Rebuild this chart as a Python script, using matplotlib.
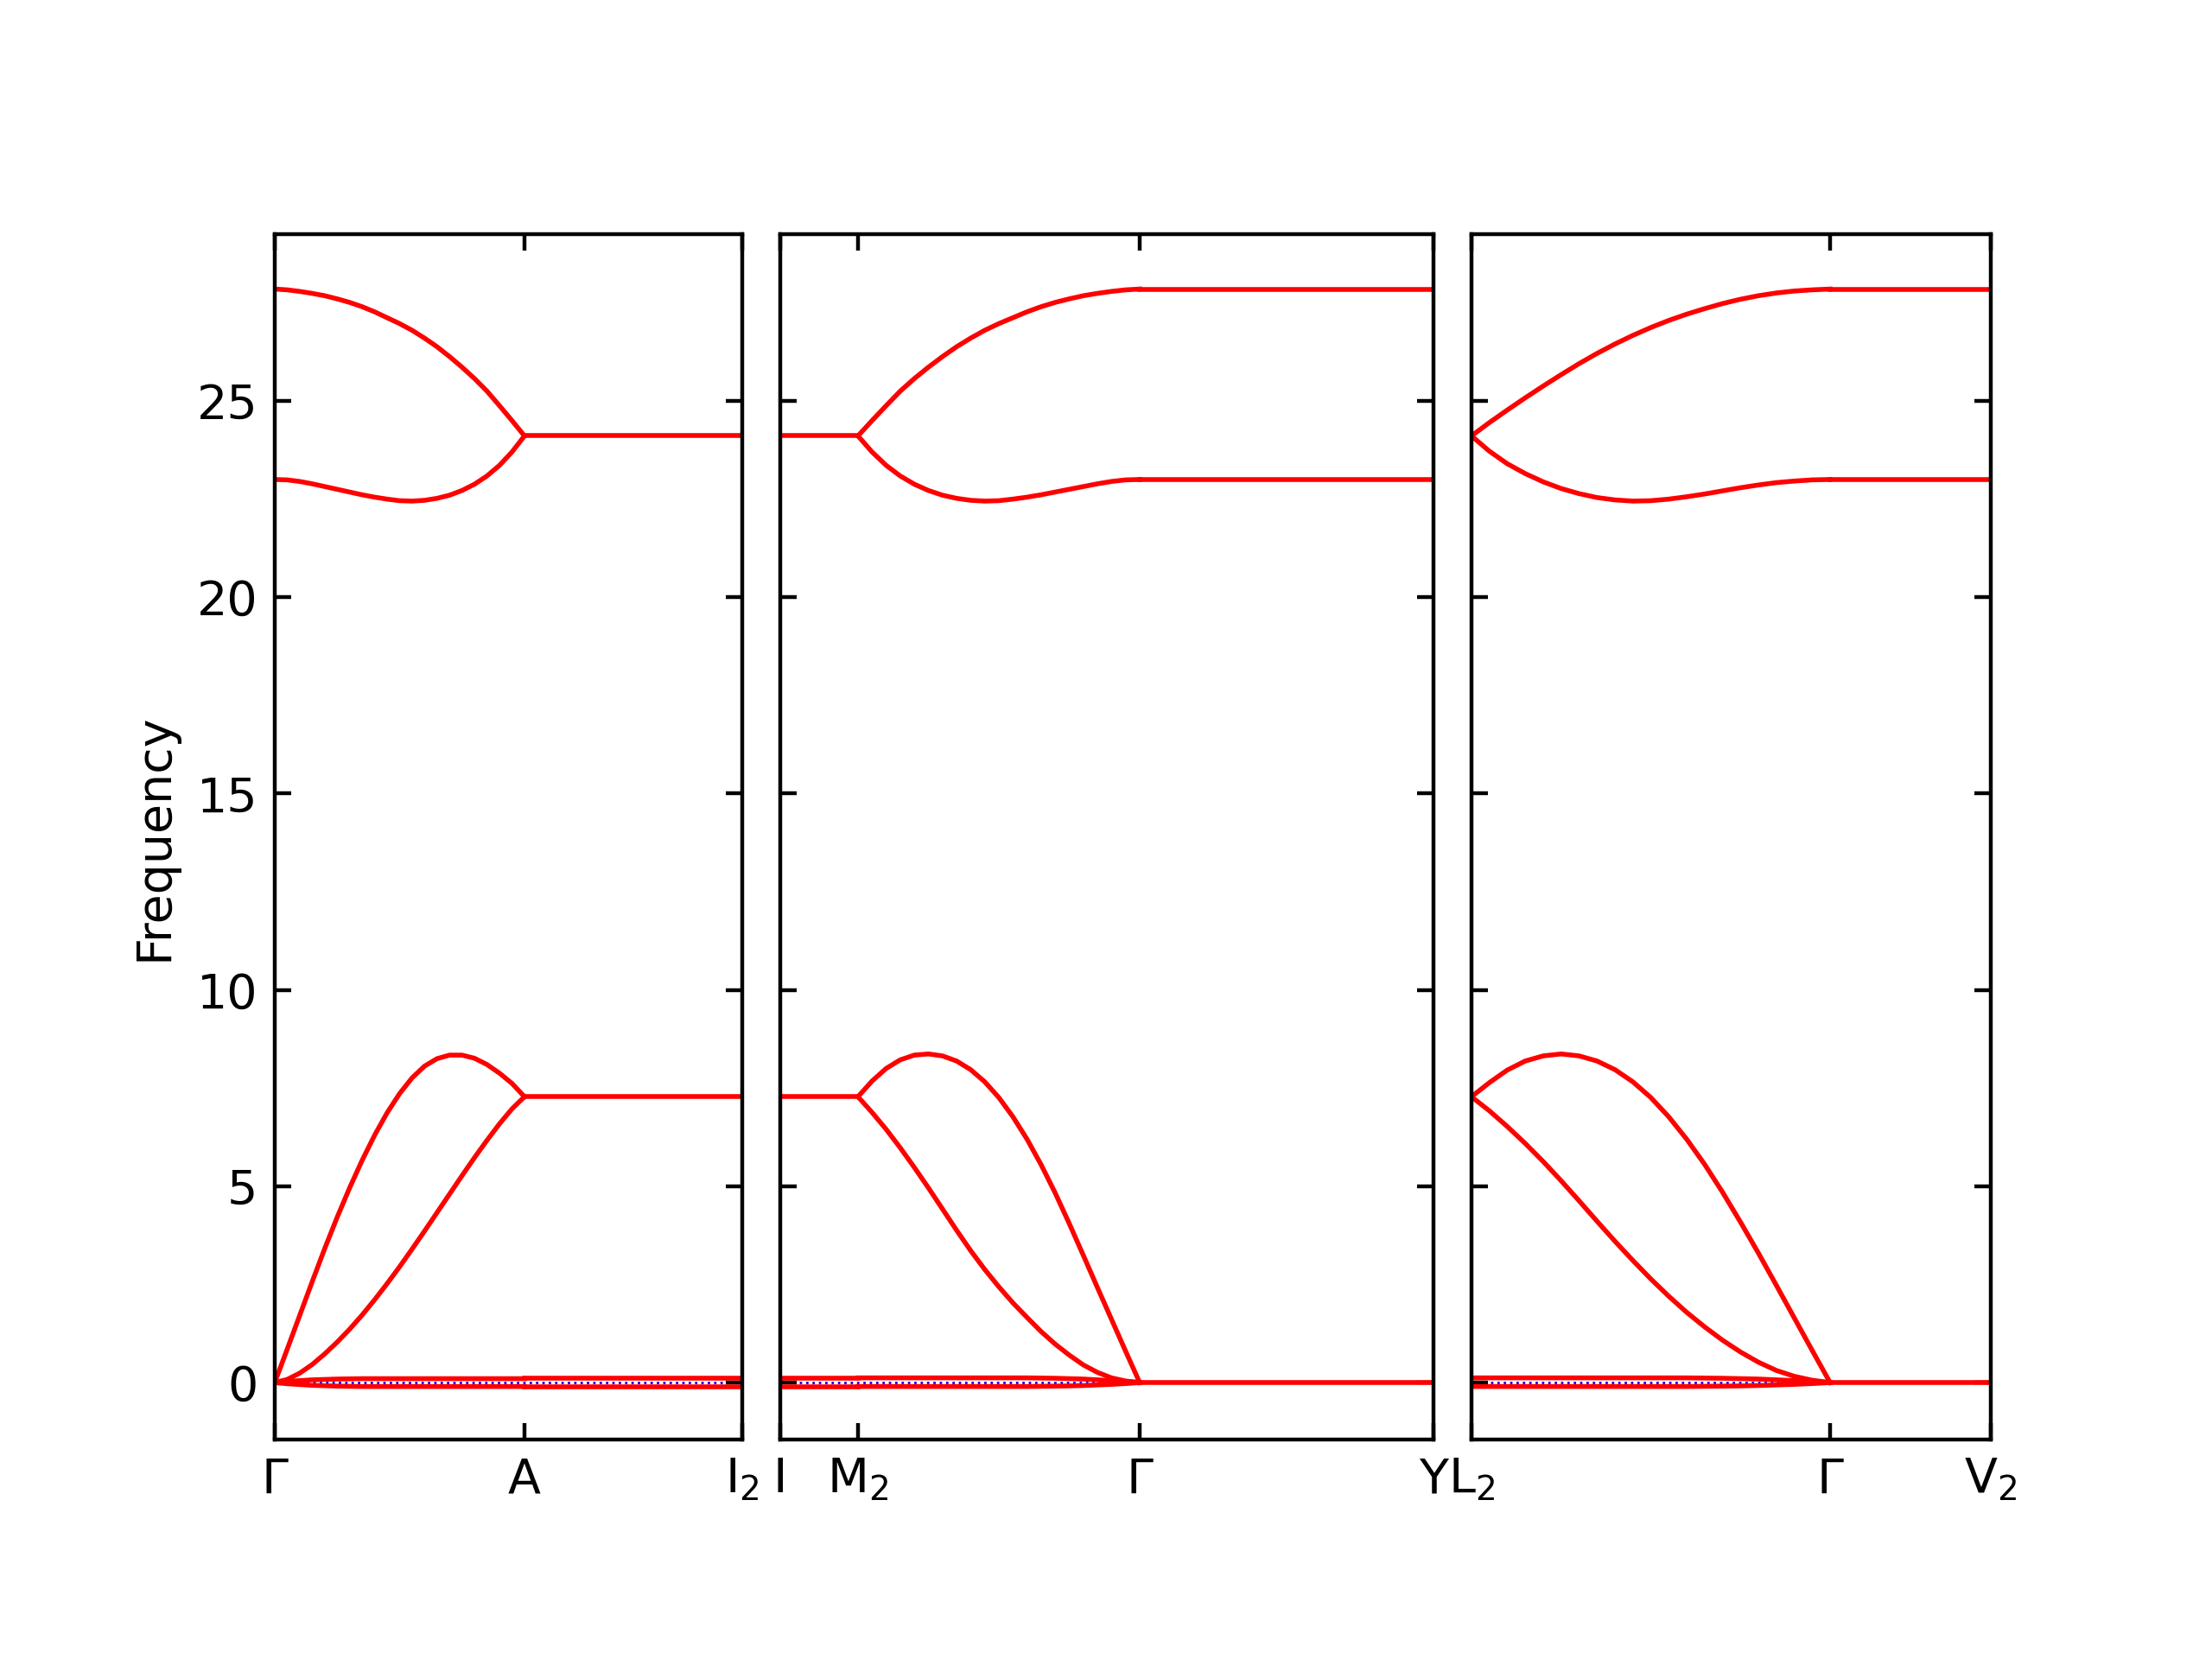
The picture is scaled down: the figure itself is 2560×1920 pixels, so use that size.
import numpy as np
import matplotlib.pyplot as plt

# ---------------------------------------------------------
# path: special points (distance along path) and labels
# ---------------------------------------------------------
pts1 = [0.0, 0.289, 0.541]
labels1 = ['Γ', 'A', 'I$_2$']
pts2 = [0.0, 0.090, 0.416, 0.756]
labels2 = ['I', 'M$_2$', 'Γ', 'Y']
pts3 = [0.0, 0.415, 0.601]
labels3 = ['L$_2$', 'Γ', 'V$_2$']

# fraction along a segment where bands were read (step 0.05)
t = np.linspace(0, 1, 21)
t_flat = [0.0, 1.0]

# ---------------------------------------------------------
# Gamma -> A
# ---------------------------------------------------------
ga_opt_hi = [27.85, 27.83, 27.79, 27.74, 27.68, 27.60, 27.51, 27.40, 27.27, 27.12, 26.97,
             26.80, 26.60, 26.38, 26.13, 25.86, 25.57, 25.25, 24.88, 24.50, 24.11]
ga_opt_lo = [23.00, 22.99, 22.95, 22.89, 22.82, 22.75, 22.68, 22.61, 22.55, 22.50, 22.46,
             22.45, 22.47, 22.52, 22.60, 22.72, 22.88, 23.09, 23.36, 23.70, 24.11]
ga_ac_hi = [0.00, 0.85, 1.71, 2.57, 3.41, 4.21, 4.96, 5.66, 6.30, 6.87, 7.36,
            7.76, 8.06, 8.25, 8.34, 8.34, 8.26, 8.10, 7.88, 7.62, 7.28]
ga_ac_lo = [0.00, 0.08, 0.24, 0.46, 0.73, 1.03, 1.36, 1.72, 2.11, 2.52, 2.95,
            3.40, 3.86, 4.33, 4.80, 5.27, 5.73, 6.17, 6.59, 6.97, 7.28]
ga_zero_up = [0.00, 0.03, 0.05, 0.07, 0.08, 0.09, 0.095, 0.10, 0.10, 0.10, 0.10,
              0.10, 0.10, 0.10, 0.10, 0.10, 0.10, 0.10, 0.10, 0.10, 0.10]
ga_zero_dn = [0.00, -0.03, -0.05, -0.07, -0.08, -0.09, -0.095, -0.10, -0.10, -0.10, -0.10,
              -0.10, -0.10, -0.10, -0.10, -0.10, -0.10, -0.10, -0.10, -0.10, -0.10]

# flat parts (A -> I2, I -> M2)
flat_bz_edge = [24.11, 7.28, 0.12, -0.10]

# ---------------------------------------------------------
# M2 -> Gamma
# ---------------------------------------------------------
mg_opt_hi = [24.11, 24.50, 24.88, 25.25, 25.57, 25.86, 26.13, 26.38, 26.60, 26.80, 26.97,
             27.12, 27.27, 27.40, 27.51, 27.60, 27.68, 27.74, 27.79, 27.83, 27.85]
mg_opt_lo = [24.11, 23.70, 23.36, 23.09, 22.88, 22.72, 22.60, 22.52, 22.47, 22.45, 22.46,
             22.50, 22.55, 22.61, 22.68, 22.75, 22.82, 22.89, 22.95, 22.99, 23.00]
mg_ac_hi = [7.28, 7.68, 8.00, 8.22, 8.34, 8.37, 8.32, 8.19, 7.97, 7.66, 7.26,
            6.77, 6.20, 5.55, 4.83, 4.05, 3.24, 2.42, 1.61, 0.80, 0.00]
mg_ac_lo = [7.28, 6.88, 6.45, 5.98, 5.48, 4.96, 4.42, 3.88, 3.36, 2.88, 2.44,
            2.03, 1.66, 1.30, 0.98, 0.70, 0.45, 0.26, 0.12, 0.04, 0.00]
mg_zero_up = [0.12, 0.12, 0.12, 0.12, 0.12, 0.12, 0.12, 0.12, 0.12, 0.12, 0.12,
              0.12, 0.12, 0.115, 0.11, 0.10, 0.09, 0.07, 0.05, 0.03, 0.00]
mg_zero_dn = [-0.10, -0.10, -0.10, -0.10, -0.10, -0.10, -0.10, -0.10, -0.10, -0.10, -0.10,
              -0.10, -0.10, -0.095, -0.09, -0.085, -0.075, -0.06, -0.045, -0.025, 0.00]

# ---------------------------------------------------------
# L2 -> Gamma
# ---------------------------------------------------------
lg_opt_hi = [24.11, 24.45, 24.77, 25.08, 25.38, 25.67, 25.95, 26.21, 26.45, 26.67, 26.87,
             27.05, 27.21, 27.35, 27.48, 27.59, 27.68, 27.75, 27.80, 27.83, 27.85]
lg_opt_lo = [24.11, 23.72, 23.40, 23.15, 22.94, 22.77, 22.64, 22.54, 22.48, 22.45, 22.46,
             22.50, 22.56, 22.63, 22.71, 22.79, 22.86, 22.92, 22.96, 22.99, 23.00]
lg_ac_hi = [7.28, 7.64, 7.96, 8.19, 8.32, 8.37, 8.32, 8.19, 7.97, 7.66, 7.26,
            6.77, 6.20, 5.56, 4.85, 4.09, 3.30, 2.48, 1.65, 0.82, 0.00]
lg_ac_lo = [7.28, 6.92, 6.52, 6.09, 5.63, 5.14, 4.63, 4.11, 3.60, 3.11, 2.64,
            2.20, 1.79, 1.42, 1.08, 0.78, 0.52, 0.31, 0.16, 0.06, 0.00]
lg_zero_up = mg_zero_up
lg_zero_dn = mg_zero_dn

# flat parts at the zone centre side (Gamma -> Y, Gamma -> V2)
flat_gamma = [27.85, 23.00, 0.00]

# ---------------------------------------------------------
# figure
# ---------------------------------------------------------
fig = plt.figure(figsize=(6.4, 4.8), dpi=400)

left, right = 0.1242, 0.9
bottom, height = 0.1323, 0.7266
gap = 44 / 2560
total = pts1[-1] + pts2[-1] + pts3[-1]
scale = (right - left - 2 * gap) / total

paths = [
    (pts1, labels1, [
        (0, 1, [ga_opt_hi, ga_opt_lo, ga_ac_hi, ga_ac_lo, ga_zero_up, ga_zero_dn]),
        (1, 2, flat_bz_edge),
    ]),
    (pts2, labels2, [
        (0, 1, flat_bz_edge),
        (1, 2, [mg_opt_hi, mg_opt_lo, mg_ac_hi, mg_ac_lo, mg_zero_up, mg_zero_dn]),
        (2, 3, flat_gamma),
    ]),
    (pts3, labels3, [
        (0, 1, [lg_opt_hi, lg_opt_lo, lg_ac_hi, lg_ac_lo, lg_zero_up, lg_zero_dn]),
        (1, 2, flat_gamma),
    ]),
]

x0 = left
axes = []
for i, (pts, labels, segments) in enumerate(paths):
    w = pts[-1] * scale
    ax = fig.add_axes([x0, bottom, w, height])
    x0 += w + gap
    axes.append(ax)

    ax.axhline(0, linestyle=':', linewidth=0.5, color='b', zorder=1)
    for a, b, bands in segments:
        xa, xb = pts[a], pts[b]
        for band in bands:
            if np.ndim(band) == 0:
                xs = [xa + (xb - xa) * s for s in t_flat]
                ys = [band, band]
            else:
                xs = xa + (xb - xa) * t
                ys = band
            ax.plot(xs, ys, 'r-', linewidth=1.0, zorder=2)

    ax.set_xlim(pts[0], pts[-1])
    ax.set_ylim(-1.45, 29.25)
    ax.set_xticks(pts)
    ax.set_xticklabels(labels)
    ax.set_yticks([0, 5, 10, 15, 20, 25])
    ax.tick_params(direction='in', top=True, right=True)
    if i > 0:
        ax.tick_params(labelleft=False)

axes[0].set_ylabel('Frequency')

fig.savefig('out.png', dpi=400)
